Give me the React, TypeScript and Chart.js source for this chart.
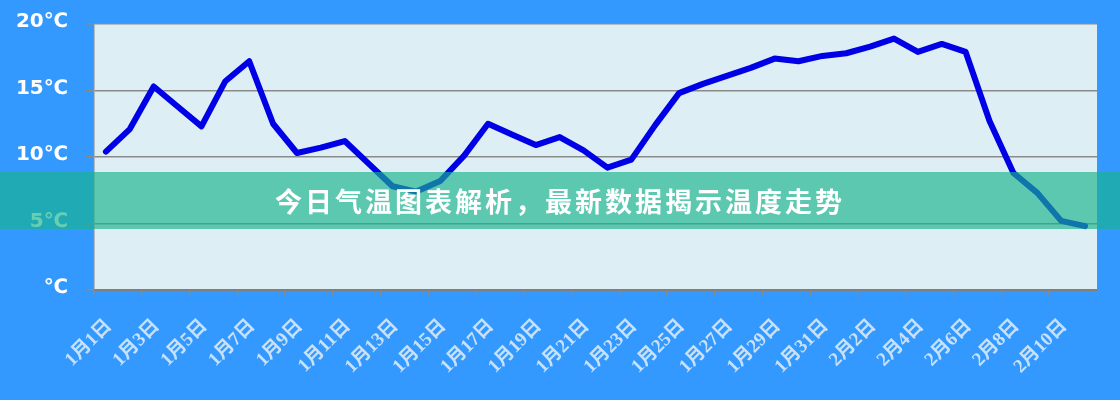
import React, { useRef, useEffect } from 'react';
import { Chart, registerables, Plugin } from 'chart.js';

Chart.register(...registerables);

// one category per day, labels shown on every other day
const days: string[] = [
    '1月1日', '1月2日', '1月3日', '1月4日', '1月5日', '1月6日', '1月7日', '1月8日',
    '1月9日', '1月10日', '1月11日', '1月12日', '1月13日', '1月14日', '1月15日', '1月16日',
    '1月17日', '1月18日', '1月19日', '1月20日', '1月21日', '1月22日', '1月23日', '1月24日',
    '1月25日', '1月26日', '1月27日', '1月28日', '1月29日', '1月30日', '1月31日', '2月1日',
    '2月2日', '2月3日', '2月4日', '2月5日', '2月6日', '2月7日', '2月8日', '2月9日',
    '2月10日', '2月11日',
];

const temps: number[] = [
    10.4, 12.1, 15.3, 13.8, 12.3, 15.7, 17.2, 12.5, 10.3, 10.7,
    11.2, 9.5, 7.8, 7.4, 8.2, 10.1, 12.5, 11.7, 10.9, 11.5,
    10.5, 9.2, 9.8, 12.4, 14.8, 15.5, 16.1, 16.7, 17.4, 17.2,
    17.6, 17.8, 18.3, 18.9, 17.9, 18.5, 17.9, 12.7, 8.8, 7.3,
    5.2, 4.8,
];

const yTicks: number[] = [0, 5, 10, 15, 20];

const bannerText = '今日气温图表解析，最新数据揭示温度走势';

const plotBackground: Plugin<'line'> = {
    id: 'plotBackground',
    beforeDraw(chart) {
        const { ctx, chartArea } = chart;
        ctx.save();
        ctx.fillStyle = '#ddeef5';
        ctx.fillRect(chartArea.left, chartArea.top, chartArea.right - chartArea.left, chartArea.bottom - chartArea.top);
        ctx.restore();
    },
};

const TempChart: React.FC = () => {
    const chartRef = useRef<HTMLCanvasElement>(null);
    const chartInstance = useRef<Chart | null>(null);

    useEffect(() => {
        if (chartInstance.current) {
            chartInstance.current.destroy();
        }
        const ctx = chartRef.current?.getContext('2d');
        if (!ctx) return;

        chartInstance.current = new Chart(ctx, {
            type: 'line',
            data: {
                labels: days,
                datasets: [{
                    label: '气温',
                    data: temps,
                    borderColor: '#0000e6',
                    borderWidth: 6,
                    pointRadius: 0,
                    tension: 0,
                    borderJoinStyle: 'round',
                    borderCapStyle: 'round',
                    fill: false,
                }],
            },
            options: {
                animation: false,
                responsive: true,
                maintainAspectRatio: false,
                layout: { padding: { top: 24, right: 23, left: 0, bottom: 0 } },
                plugins: {
                    legend: { display: false },
                    tooltip: { enabled: false },
                },
                scales: {
                    x: {
                        type: 'category',
                        offset: true,
                        afterFit: (scale: any) => {
                            scale.height = 110;
                            scale.paddingLeft = 0;
                            scale.paddingRight = 0;
                        },
                        grid: {
                            offset: true,
                            drawOnChartArea: false,
                            tickLength: 5,
                            lineWidth: 1.5,
                            color: (c: any) => (c.index !== undefined && c.index % 2 === 0 ? '#8a8a8a' : 'rgba(0,0,0,0)'),
                        },
                        border: { display: true, color: '#808080', width: 2 },
                        ticks: {
                            autoSkip: false,
                            maxRotation: 45,
                            minRotation: 45,
                            padding: 20,
                            labelOffset: 3,
                            color: '#c8e1fa',
                            font: { family: '"Liberation Serif", "Noto Sans CJK SC", serif', size: 19, weight: 'bold' },
                            callback: (_v: any, i: number) => (i % 2 === 0 ? days[i] : ''),
                        },
                    },
                    y: {
                        min: yTicks[0],
                        max: yTicks[yTicks.length - 1],
                        afterFit: (scale: any) => {
                            scale.width = 94;
                            scale.paddingTop = 0;
                            scale.paddingBottom = 0;
                        },
                        afterBuildTicks: (scale: any) => { scale.ticks = yTicks.map(v => ({ value: v })); },
                        grid: {
                            color: '#8a8a8a',
                            lineWidth: 1.5,
                            tickLength: 8,
                        },
                        border: { display: true, color: '#8a8a8a', width: 1.5 },
                        ticks: {
                            padding: 18,
                            labelOffset: -2,
                            color: '#ffffff',
                            font: { family: '"DejaVu Sans", sans-serif', size: 20, weight: 'bold' },
                            callback: (v: any) => (v === 0 ? '℃' : v + '℃'),
                        },
                    },
                },
            },
            plugins: [plotBackground],
        });

        return () => {
            chartInstance.current?.destroy();
            chartInstance.current = null;
        };
    }, []);

    return <canvas ref={chartRef}></canvas>;
};

const App: React.FC = () => {
    return (
        <div style={{ position: 'fixed', left: 0, top: 0, width: 1120, height: 400, background: '#3399ff', overflow: 'hidden' }}>
            <div style={{ position: 'absolute', left: 0, top: 0, width: 1120, height: 400 }}>
                <TempChart />
            </div>
            <div
                style={{
                    position: 'absolute',
                    left: 0,
                    top: 172,
                    width: 1120,
                    height: 57,
                    background: 'rgba(23,180,138,0.65)',
                    color: '#ffffff',
                    fontFamily: '"Noto Sans CJK SC", sans-serif',
                    fontWeight: 'bold',
                    fontSize: 27,
                    letterSpacing: 3,
                    lineHeight: '57px',
                    textAlign: 'center',
                }}
            >
                {bannerText}
            </div>
        </div>
    );
};

export default App;
